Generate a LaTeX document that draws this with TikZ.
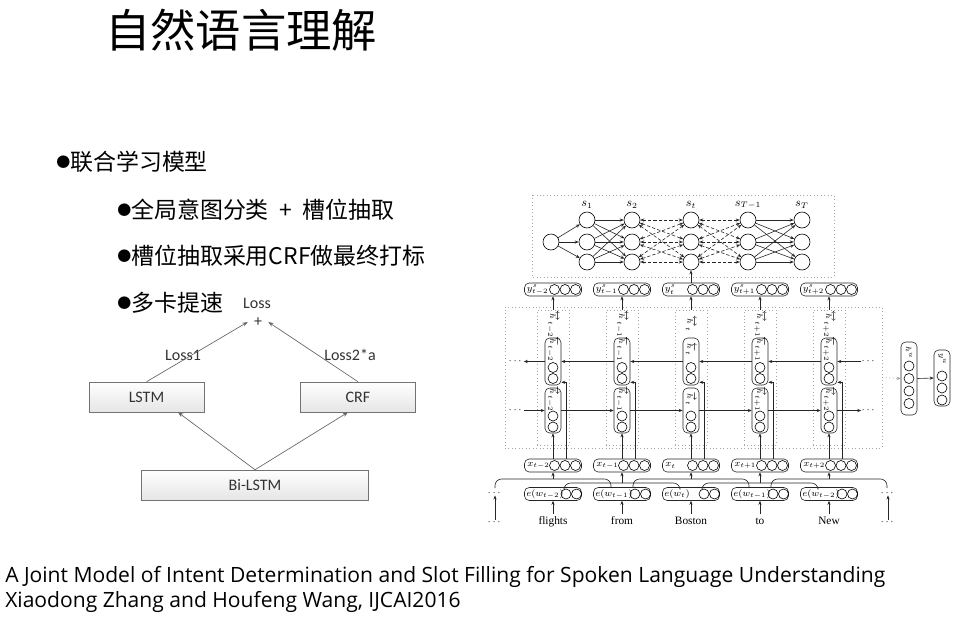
\documentclass[tikz,border=0pt]{standalone}
\usepackage{amsmath}
\usepackage[no-math]{fontspec}
\setmainfont{Noto Sans CJK SC}
\newfontfamily\cjk{Noto Sans CJK SC}
\newfontfamily\calib{Carlito}
\newfontfamily\capt{Open Sans}
\newfontfamily\tms{Liberation Serif}
\usetikzlibrary{arrows.meta,calc}

% small bullet dot in front of each point
\newcommand\dotmark{\raisebox{2.3pt}{\fontsize{10.5}{11}\selectfont ●}}

\tikzset{
  title/.style={anchor=west,inner sep=0,font=\cjk\fontsize{34}{38}\selectfont},
  bul/.style={anchor=west,inner sep=0,font=\cjk\fontsize{17.2}{20}\selectfont},
  captxt/.style={anchor=west,inner sep=0,font=\capt\fontsize{15.8}{18}\selectfont},
  % left block diagram
  lbox/.style={draw=black!55, top color=white, bottom color=black!10,
    minimum width=86.25pt, minimum height=22.5pt, inner sep=0,
    font=\calib\fontsize{12}{14}\selectfont, text=black!80},
  ltext/.style={inner sep=0,font=\calib\fontsize{12}{14}\selectfont, text=black!80},
  larrow/.style={draw=black!60, line width=0.5pt, -{Stealth[length=4pt,width=3pt]}},
  % network figure
  nline/.style={line width=0.45pt, draw=black!85},
  arr/.style={nline, -{Stealth[length=3pt,width=2.4pt]}},
  darr/.style={nline, dashed, dash pattern=on 2.5pt off 1.5pt, {Stealth[length=3pt,width=2.4pt]}-{Stealth[length=3pt,width=2.4pt]}},
  frame/.style={draw=black!35, dotted, line width=0.6pt},
  big/.style={draw, circle, line width=0.45pt, minimum size=12pt, inner sep=0},
  cc/.style={draw, circle, line width=0.45pt, minimum size=7.5pt, inner sep=0},
  hvec/.style={draw, nline, rounded corners=3.5pt, minimum width=42.75pt, minimum height=9.75pt, inner sep=0},
  unit/.style={draw, nline, rounded corners=3.5pt, minimum width=12pt, inner sep=0},
  colbox/.style={frame, minimum width=24pt, minimum height=101.25pt, inner sep=0},
  mlab/.style={inner sep=0, font=\fontsize{7.2}{8}\selectfont},
  rlab/.style={inner sep=0, rotate=-90, font=\fontsize{6.5}{7}\selectfont},
  word/.style={inner sep=1pt, font=\tms\fontsize{8.5}{10}\selectfont},
}

\begin{document}
\begin{tikzpicture}[x=0.75pt,y=-0.75pt]
\useasboundingbox (0,0) rectangle (961,618);

% ---------- heading and bullet points ----------
\node[title] (ttl) at (105,30) {自然语言理解};
\node[bul] (b1) at (56,162) {\dotmark 联合学习模型};
\node[bul] (b2) at (117,210) {\dotmark 全局意图分类\hspace{0.45em}+\hspace{0.45em}槽位抽取};
\node[bul] (b3) at (117,256) {\dotmark 槽位抽取采用CRF做最终打标};
\node[bul] (b4) at (117,303) {\dotmark 多卡提速};

% ---------- joint loss diagram ----------
\node[lbox] (lstm) at (146.5,397) {LSTM};
\node[lbox] (crf) at (358,397) {CRF};
\node[lbox, minimum width=170.25pt] (bilstm) at (255,485) {Bi-LSTM};
\node[ltext] (loss) at (257,303) {Loss};
\node[ltext, minimum width=15pt] (plus) at (258,322) {+};
\node[ltext] (l1) at (183,355) {Loss1};
\node[ltext] (l2) at (350,355) {Loss2*a};
\draw[larrow] (lstm.north) -- (plus.west);
\draw[larrow] (crf.north) -- (plus.east);
\draw[larrow] (bilstm.north) -- ($(lstm.south)+(31.5,0)$);
\draw[larrow] (bilstm.north) -- ($(crf.south)+(-10,0)$);

% ---------- CRF layer ----------
\draw[frame] (532,195) rectangle (834,277);
\node[big] (s0) at (551,242) {};
\foreach \c/\x in {1/587,2/632,3/691,4/748,5/802}
  \foreach \r/\y in {1/220,2/242,3/262}
    \node[big] (s\c\r) at (\x,\y) {};
\foreach \c/\l in {1/1,2/2,3/t,4/{T-1},5/T}
  \node[mlab, font=\fontsize{9}{10}\selectfont] (sl\c) at ($(s\c1)+(0,-15)$) {$s_{\l}$};
\foreach \r in {1,2,3} \draw[arr] (s0) -- (s1\r);
\foreach \a in {1,2,3}
  \foreach \b in {1,2,3} {
    \draw[arr] (s1\a) -- (s2\b);
    \draw[darr] (s2\a) -- (s3\b);
    \draw[darr] (s3\a) -- (s4\b);
    \draw[arr] (s4\a) -- (s5\b);
  }

% ---------- bidirectional LSTM layer ----------
\node[frame, minimum width=282.75pt, minimum height=105.75pt, inner sep=0] (bigbox) at (693.5,377.5) {};

\foreach \i/\cx/\s/\e/\w in {1/553/{t-2}/{t-2}/flights,2/622/{t-1}/{t-1}/from,3/691/t/t/Boston,4/760/{t+1}/{t-1}/to,5/829/{t+2}/{t-2}/New} {
  % slot output vector
  \node[hvec] (y\i) at (\cx,289.5) {};
  \node[mlab, anchor=west] (yl\i) at (\cx-26.5,289.5) {$y^{s}_{\s}$};
  \foreach \k in {1.5,12,22.5} \node[cc] at (\cx+\k,289.5) {};
  % column of forward/backward cells
  \node[colbox] (col\i) at (\cx,377.5) {};
  \node[rlab] (hl\i) at (\cx,324) {$\overleftrightarrow{h}_{\s}$};
  \node[unit, minimum height=35.25pt] (bw\i) at (\cx,361.5) {};
  \node[rlab] (bwl\i) at (\cx,349) {$\overleftarrow{h}_{\s}$};
  \node[cc] at (\cx,367.5) {};
  \node[cc] at (\cx,378.5) {};
  \node[unit, minimum height=33.75pt] (fw\i) at (\cx,410.5) {};
  \node[rlab] (fwl\i) at (\cx,399) {$\overrightarrow{h}_{\s}$};
  \node[cc] at (\cx,416) {};
  \node[cc] at (\cx,427) {};
  % input vector
  \node[hvec] (x\i) at (\cx,465.5) {};
  \node[mlab, anchor=west] (xl\i) at (\cx-26,465.5) {$x_{\s}$};
  \foreach \k in {1.5,12,22.5} \node[cc] at (\cx+\k,465.5) {};
  % word embedding
  \node[hvec] (e\i) at (\cx,494) {};
  \node[mlab, anchor=west, font=\fontsize{6.8}{7}\selectfont] (el\i) at (\cx-27,494) {$e(w_{\e})$};
  \foreach \k in {13,23.5} \node[cc] at (\cx+\k,494) {};
  \node[word] (w\i) at (\cx,522) {\strut\w};
  % connections inside the column
  \draw[arr] (col\i.north) -- (y\i.south);
  \draw[arr] (x\i.north) -- (fw\i.south);
  \draw[arr] ($(x\i.north)+(13,0)$) |- ($(bw\i.south east)+(0,-3)$);
  \draw[arr] (w\i.north) -- (e\i.south);
}

% context windows over the embeddings
\foreach \i/\cx/\t in {1/553/479,2/622/483,3/691/479,4/760/483,5/829/479} {
  \draw[nline, rounded corners=5pt] (\cx-58,488) |- (\cx,\t) -| (\cx+58,488);
  \coordinate (br\i) at (\cx,\t);
  \draw[arr] (br\i) -- (x\i.south);
}

% recurrent connections
\foreach \i/\j in {1/2,2/3,3/4,4/5} {
  \draw[arr] (fw\i.east) -- (fw\j.west);
  \draw[arr] (bw\j.west) -- (bw\i.east);
}
\node[mlab] (dl1) at (516,361.5) {$\cdots$};
\node[mlab] (dl2) at (516,410.5) {$\cdots$};
\node[mlab] (dr1) at (869,361.5) {$\cdots$};
\node[mlab] (dr2) at (869,410.5) {$\cdots$};
\draw[arr] (bw1.west) -- (dl1.east);
\draw[arr] (dl2.east) -- (fw1.west);
\draw[arr] (dr1.west) -- (bw5.east);
\draw[arr] (fw5.east) -- (dr2.west);

% ellipses at both ends of the sentence
\node[mlab] (el0t) at (495,493) {$\cdots$};
\node[mlab] (el0b) at (495,522) {$\cdots$};
\node[mlab] (el6t) at (888,493) {$\cdots$};
\node[mlab] (el6b) at (888,522) {$\cdots$};
\draw[arr] (el0b.north) -- (el0t.south);
\draw[arr] (el6b.north) -- (el6t.south);

% CRF input from the current slot vector
\draw[arr] (y3.north) -- (s33.south);

% intent branch
\node[unit, minimum height=54.75pt] (hu) at (909,378.5) {};
\node[rlab] (hul) at (909,353) {$h^{u}$};
\foreach \y in {366,378.5,391,403.5} \node[cc] at (909,\y) {};
\node[unit, minimum height=42pt] (yu) at (942,378) {};
\node[rlab] (yul) at (942,359) {$y^{u}$};
\foreach \y in {376,388,400} \node[cc] at (942,\y) {};
\draw[draw=black!40, dotted, line width=0.6pt, -{Stealth[length=3pt,width=2.4pt,open]}] (bigbox.east) -- (hu.west);
\draw[arr] (hu.east) -- (yu.west);

% ---------- reference ----------
\node[captxt] (c1) at (5,577) {A Joint Model of Intent Determination and Slot Filling for Spoken Language Understanding};
\node[captxt] (c2) at (5,602) {Xiaodong Zhang and Houfeng Wang, IJCAI2016};
\end{tikzpicture}
\end{document}
